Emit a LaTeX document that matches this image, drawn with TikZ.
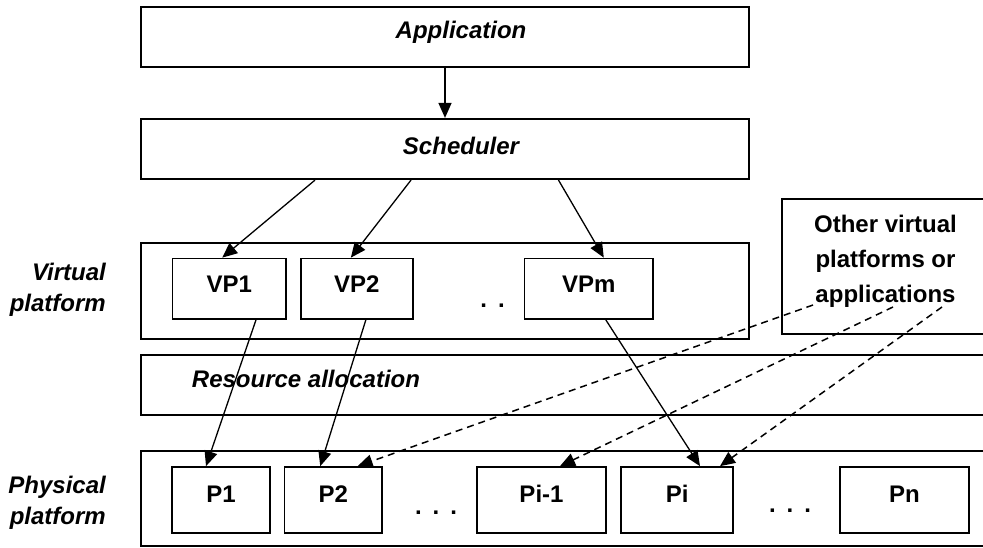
\documentclass[tikz,border=0pt]{standalone}
\usepackage{fontspec}
\setmainfont{Liberation Sans}
\usetikzlibrary{arrows.meta}

% spacing between the dots of an ellipsis
\newcommand\dotgap{\hspace{11pt}}

\begin{document}
\begin{tikzpicture}[x=1pt,y=-1pt,
  frame/.style={draw, line width=2.2pt, inner sep=0pt},
  cell/.style={draw, line width=1.7pt, inner sep=0pt,
    font=\fontsize{24}{29}\selectfont\bfseries},
  vcell/.style={cell, minimum height=60.5pt, text height=17pt, text depth=8.5pt},
  pcell/.style={cell, minimum height=66pt, text height=17pt, text depth=13pt},
  txt/.style={font=\fontsize{24}{29}\selectfont\bfseries, inner sep=0pt, anchor=base},
  itxt/.style={font=\fontsize{24}{29}\selectfont\bfseries\itshape, inner sep=0pt, anchor=base},
  side/.style={font=\fontsize{24}{31.5}\selectfont\bfseries\itshape, inner sep=0pt,
    anchor=east, align=right},
  link/.style={-{Triangle[length=15pt,width=13pt]}, line width=1.3pt},
  hint/.style={-{Triangle[length=15pt,width=13pt]}, line width=1.5pt,
    dash pattern=on 7pt off 5pt}]

\useasboundingbox (0,0) rectangle (983,548);
\clip (0,0) rectangle (983,548);

% layers
\node[frame, minimum width=608pt, minimum height=60pt] (app) at (445,37) {};
\node[itxt] (apptext) at (461,39) {Application};

\node[frame, minimum width=608pt, minimum height=60pt] (sched) at (445,149) {};
\node[itxt] (schedtext) at (461,155) {Scheduler};

\node[frame, minimum width=608pt, minimum height=96pt] (virt) at (445,291) {};
\node[frame, minimum width=228pt, minimum height=135pt] (other) at (896,266.5) {};
\node[txt, anchor=center, align=center, font=\fontsize{24}{35}\selectfont\bfseries]
  (othertext) at (885.5,261) {Other virtual\\platforms or\\applications};

\node[frame, minimum width=869pt, minimum height=60pt] (res) at (575.5,385) {};
\node[itxt] (restext) at (306,387) {Resource allocation};

\node[frame, minimum width=869pt, minimum height=95pt] (phys) at (575.5,498.5) {};

% side labels
\node[side] (vlabel) at (106,290) {Virtual\\platform};
\node[side] (plabel) at (106,503) {Physical\\platform};

% virtual platforms
\node[vcell, minimum width=113.5pt] (vp1) at (229.25,288.75) {VP1};
\node[vcell, minimum width=112.3pt] (vp2) at (356.85,288.75) {VP2};
\node[vcell, minimum width=128.4pt] (vpm) at (588.8,288.75) {VPm};
\node[txt] (vdots) at (492.5,308) {.\dotgap.};

% physical processors
\node[pcell, minimum width=98pt]    (p1)  at (221,500)    {P1};
\node[pcell, minimum width=97.5pt]  (p2)  at (333.25,500) {P2};
\node[pcell, minimum width=128.4pt] (pim) at (541.5,500)  {Pi-1};
\node[pcell, minimum width=112pt]   (pi)  at (677.3,500)  {Pi};
\node[pcell, minimum width=129pt]   (pn)  at (904.5,500)  {Pn};
\node[txt] (pdotsa) at (436,514) {.\dotgap.\dotgap.};
\node[txt] (pdotsb) at (790,512) {.\dotgap.\dotgap.};

% solid connectors
\draw[link] (app.south) -- (sched.north);
\draw[link] ([xshift=-130pt]sched.south) -- ([xshift=-7pt]vp1.north);
\draw[link] ([xshift=-34pt]sched.south) -- ([xshift=-6pt]vp2.north);
\draw[link] ([xshift=113.5pt]sched.south) -- ([xshift=15pt]vpm.north);
\draw[link] ([xshift=26.75pt]vp1.south) -- ([xshift=-15pt]p1.north);
\draw[link] ([xshift=9pt]vp2.south) -- ([xshift=-13pt]p2.north);
\draw[link] ([xshift=17pt]vpm.south) -- ([xshift=22.7pt]pi.north);

% dashed connectors from the other users
\coordinate (o1) at (813,305);
\coordinate (o2) at (893,307);
\coordinate (o3) at (942,307);
\draw[hint] (o1) -- ([xshift=24.4pt]p2.north);
\draw[hint] (o2) -- ([xshift=18.5pt]pim.north);
\draw[hint] (o3) -- ([xshift=42.7pt]pi.north);
\end{tikzpicture}
\end{document}
